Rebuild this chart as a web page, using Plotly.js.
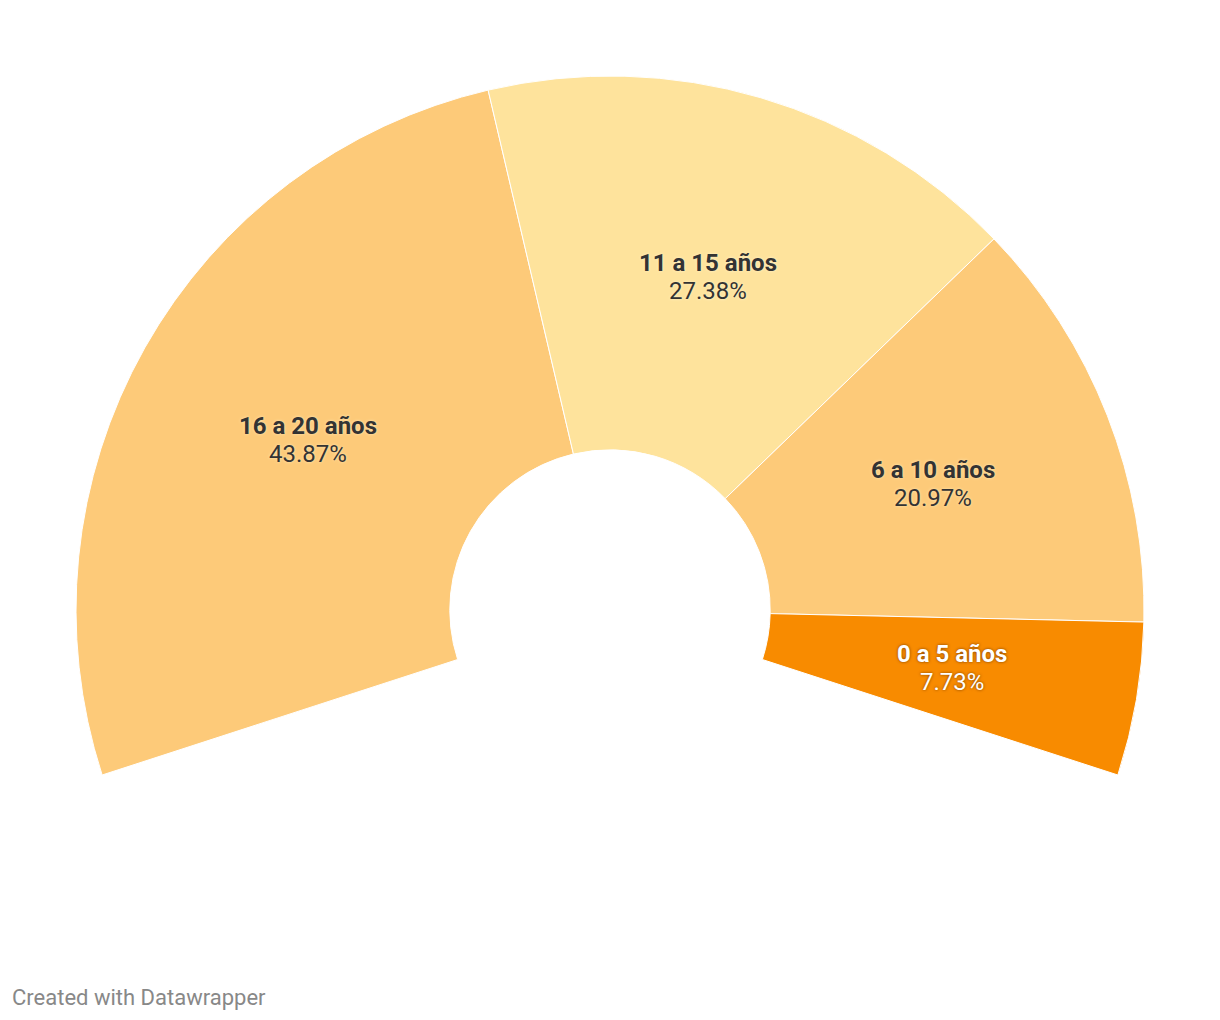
<!DOCTYPE html>
<html>
<head>
<meta charset="utf-8">
<script src="https://cdn.plot.ly/plotly-3.0.1.min.js"></script>
<style>
  html, body { margin: 0; padding: 0; background: #fff; overflow: hidden; }
  #graph { width: 1220px; height: 1220px; }
</style>
</head>
<body>
<div id="graph"></div>
<script>
// age groups, in the order drawn (clockwise from bottom left)
var labels = ['16 a 20 años', '11 a 15 años', '6 a 10 años', '0 a 5 años']
var values = [43.87, 27.38, 20.97, 7.73]
var colors = ['#fdca79', '#fee39c', '#fdca79', '#f88b00']
var textColors = ['#333333', '#333333', '#333333', '#ffffff']
var shadows = ['0 0 3px #fee9b8', '0 0 3px #fff2cc', '0 0 3px #fee9b8', '0 0 3px #7a3d00']

var W = 1220
var H = 1220
var cx = 610
var cy = 610
var rOut = 534
var hole = 0.30
var arcDeg = 216 // the half donut covers 216 degrees
var startDeg = -108 // clockwise from 12 o'clock

var total = values.reduce(function (a, b) { return a + b }, 0)
var gap = total * (360 - arcDeg) / arcDeg

var trace = {
  type: 'pie',
  values: values.concat([gap]),
  labels: labels.concat(['']),
  sort: false,
  direction: 'clockwise',
  rotation: startDeg,
  hole: hole,
  textinfo: 'none',
  hoverinfo: 'skip',
  showlegend: false,
  marker: {
    colors: colors.concat(['rgba(0,0,0,0)']),
    line: { color: '#ffffff', width: [1, 1, 1, 1, 0] }
  },
  domain: { x: [0, 1], y: [1 - (cy + rOut) / H, 1 - (cy - rOut) / H] }
}

function note (x, y, text, font) {
  return {
    xref: 'paper',
    yref: 'paper',
    x: x / W,
    y: 1 - y / H,
    xanchor: 'center',
    yanchor: 'middle',
    showarrow: false,
    text: text,
    font: font
  }
}

// labels sit in the middle of each ring slice
var annotations = []
var cum = 0
var rMid = rOut * (1 + hole) / 2
var fullTotal = total + gap
for (var i = 0; i < values.length; i++) {
  var mid = (startDeg + 360 * (cum + values[i] / 2) / fullTotal) * Math.PI / 180
  cum += values[i]
  var px = cx + rMid * Math.sin(mid)
  var py = cy - rMid * Math.cos(mid)
  var f = { family: 'Roboto, sans-serif', size: 24, color: textColors[i], shadow: shadows[i] }
  annotations.push(note(px, py - 14, '<b>' + labels[i] + '</b>', f))
  annotations.push(note(px, py + 14, values[i].toFixed(2) + '%', f))
}

var footer = note(10, 997, 'Created with Datawrapper', { family: 'Roboto, sans-serif', size: 22, color: '#888888' })
footer.xanchor = 'left'
annotations.push(footer)

var layout = {
  width: W,
  height: H,
  margin: { l: 0, r: 0, t: 0, b: 0 },
  paper_bgcolor: '#ffffff',
  showlegend: false,
  annotations: annotations
}

Plotly.newPlot('graph', [trace], layout, { displayModeBar: false, staticPlot: true })
</script>
</body>
</html>
